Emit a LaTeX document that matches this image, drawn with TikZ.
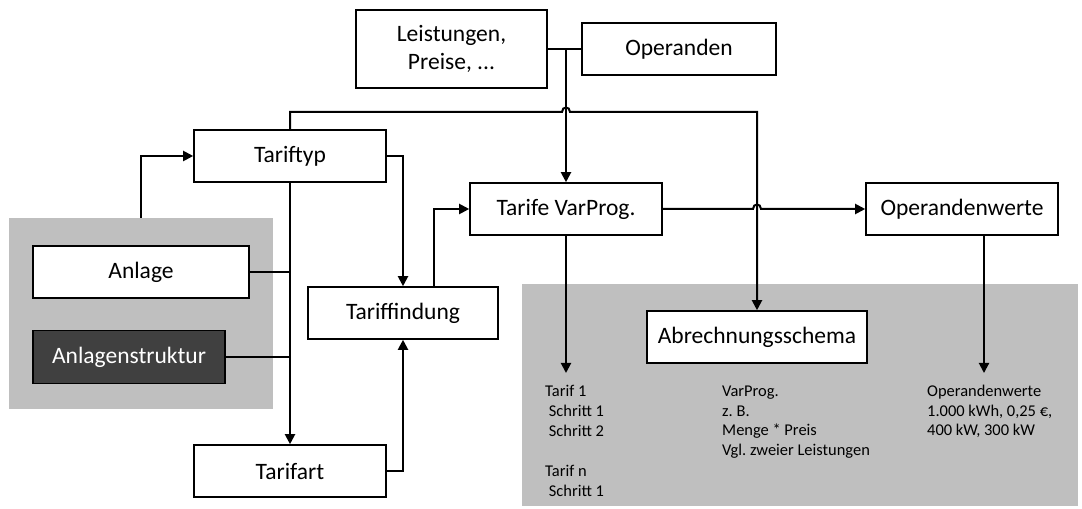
\documentclass[tikz,border=0pt]{standalone}
\usepackage{fontspec}
\setmainfont{Carlito}
\usetikzlibrary{arrows.meta}
\definecolor{panelgray}{RGB}{191,191,191}
\definecolor{darkbox}{RGB}{64,64,64}
\frenchspacing
\begin{document}
\begin{tikzpicture}[x=1bp,y=-1bp,
  box/.style={draw=black,line width=1.6bp,fill=white,inner sep=0pt,
    font=\fontsize{23.6}{28}\selectfont,align=center},
  panel/.style={fill=panelgray,draw=none,inner sep=0pt},
  link/.style={line width=2bp},
  arrowlink/.style={link,-{Triangle[length=10bp,width=10bp]}},
  note/.style={inner sep=0pt,anchor=north west,align=left,
    font=\fontsize{16.5}{20}\selectfont}]
\useasboundingbox (0,0) rectangle (1082,509);

% grey panels
\node[panel,minimum width=264bp,minimum height=191bp] (gl) at (141,313.5) {};
\node[panel,minimum width=556bp,minimum height=222bp] (gr) at (800,395) {};

% boxes
\node[box,minimum width=191bp,minimum height=78bp] (lp) at (451.5,49) {Leistungen,\\Preise, ...};
\node[box,minimum width=194bp,minimum height=52bp] (op) at (679,49) {Operanden};
\node[box,minimum width=192bp,minimum height=52bp] (tt) at (290,156) {Tariftyp};
\node[box,minimum width=216bp,minimum height=52bp] (an) at (141,272) {Anlage};
\node[box,fill=darkbox,text=white,minimum width=192bp,minimum height=53bp] (as) at (129,357) {Anlagenstruktur};
\node[box,minimum width=190bp,minimum height=52bp] (tf) at (403,313) {Tariffindung};
\node[box,minimum width=192bp,minimum height=52bp] (ta) at (290,471) {Tarifart};
\node[box,minimum width=192bp,minimum height=52bp] (tv) at (566,209) {Tarife VarProg.};
\node[box,minimum width=192bp,minimum height=52bp] (ow) at (962,209) {Operandenwerte};
\node[box,minimum width=220bp,minimum height=52bp] (ab) at (757,337) {Abrechnungsschema};

% junctions and free ends
\coordinate (j1) at (566,49);
\coordinate (tvEnd) at (566,373);
\coordinate (owOut) at (984,235);
\coordinate (owEnd) at (984,373);
\coordinate (tfOut) at (434,287);

% notes below the arrows
\node[note] (n1) at (545,382) {\strut Tarif 1\\\strut\ Schritt 1\\\strut\ Schritt 2\\\strut\\[1pt]\strut Tarif n\\\strut\ Schritt 1};
\node[note] (n2) at (722,382) {\strut VarProg.\\\strut z. B.\\\strut Menge * Preis\\\strut Vgl. zweier Leistungen};
\node[note] (n3) at (927,382) {\strut Operandenwerte\\\strut 1.000 kWh, 0,25 €,\\\strut 400 kW, 300 kW};

% connectors
\draw[link] (lp.east) -- (op.west);
\draw[arrowlink] (j1) -- (tv.north);
\draw[arrowlink] (tt.north) -- (290,112) -- (562,112)
  .. controls (562,106) and (570,106) .. (570,112) -- (757,112) -- (ab.north);
\draw[arrowlink] (gl.north) -- (gl.north |- tt.west) -- (tt.west);
\draw[arrowlink] (tt.south) -- (ta.north);
\draw[link] (an.east) -- (an.east -| tt.south);
\draw[link] (as.east) -- (as.east -| tt.south);
\draw[arrowlink] (tt.east) -- (tt.east -| tf.north) -- (tf.north);
\draw[arrowlink] (ta.east) -- (ta.east -| tf.south) -- (tf.south);
\draw[arrowlink] (tfOut) -- (tfOut |- tv.west) -- (tv.west);
\draw[arrowlink] (tv.east) -- (753,209)
  .. controls (753,203) and (761,203) .. (761,209) -- (ow.west);
\draw[arrowlink] (tv.south) -- (tvEnd);
\draw[arrowlink] (owOut) -- (owEnd);
\end{tikzpicture}
\end{document}
